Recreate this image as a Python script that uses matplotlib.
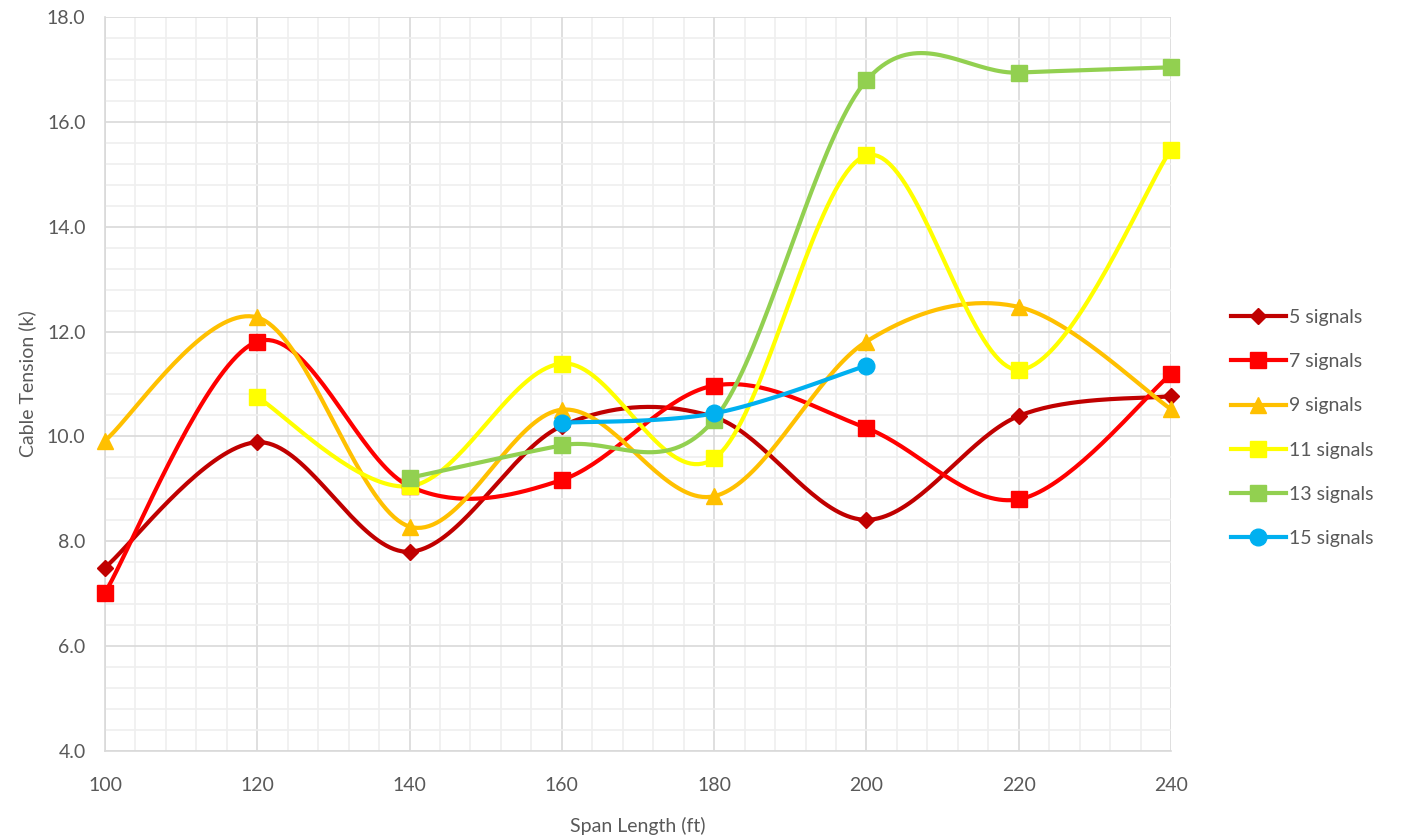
import numpy as np
import matplotlib
matplotlib.use("Agg")
import matplotlib.pyplot as plt
from matplotlib.ticker import MultipleLocator, FormatStrFormatter

plt.rcParams['font.family'] = ['Lato', 'DejaVu Sans']

span = [100, 120, 140, 160, 180, 200, 220, 240]

sig5 = [7.50, 9.89, 7.80, 10.20, 10.37, 8.41, 10.39, 10.77]
sig7 = [7.02, 11.81, 9.05, 9.17, 10.97, 10.16, 8.80, 11.19]
sig9 = [9.92, 12.27, 8.28, 10.51, 8.86, 11.81, 12.47, 10.52]
sig11 = [None, 10.75, 9.05, 11.39, 9.58, 15.36, 11.27, 15.47]
sig13 = [None, None, 9.21, 9.83, 10.32, 16.79, 16.94, 17.04]
sig15 = [None, None, None, 10.26, 10.44, 11.35, None, None]

labels = ["5 signals", "7 signals", "9 signals", "11 signals", "13 signals", "15 signals"]
colors = ["#C00000", "#FF0000", "#FFC000", "#FFFF00", "#92D050", "#00B0F0"]
markers = ["D", "s", "^", "s", "s", "o"]
msizes = [8, 11, 12, 11, 11, 12]


def smooth(xs, ys, n=40):
    # Excel-like smoothed line: cubic bezier with catmull-rom control points
    pts = np.column_stack([xs, ys]).astype(float)
    if len(pts) < 3:
        return pts[:, 0], pts[:, 1]
    out = []
    for i in range(len(pts) - 1):
        p0 = pts[i - 1] if i > 0 else pts[i]
        p1 = pts[i]
        p2 = pts[i + 1]
        p3 = pts[i + 2] if i + 2 < len(pts) else pts[i + 1]
        c1 = p1 + (p2 - p0) / 6.0
        c2 = p2 - (p3 - p1) / 6.0
        t = np.linspace(0, 1, n)[:, None]
        seg = ((1 - t) ** 3) * p1 + 3 * ((1 - t) ** 2) * t * c1 \
            + 3 * (1 - t) * t ** 2 * c2 + t ** 3 * p2
        out.append(seg if i == 0 else seg[1:])
    out = np.vstack(out)
    return out[:, 0], out[:, 1]


fig = plt.figure(figsize=(14.03, 8.35), dpi=100)
ax = fig.add_axes([105 / 1403, 84 / 835, 1066 / 1403, 734 / 835])

series = [sig5, sig7, sig9, sig11, sig13, sig15]
for vals, lab, col, mk, ms in zip(series, labels, colors, markers, msizes):
    xs = [x for x, v in zip(span, vals) if v is not None]
    ys = [v for v in vals if v is not None]
    sx, sy = smooth(xs, ys)
    ax.plot(sx, sy, color=col, lw=3, solid_capstyle='round', zorder=3,
            clip_on=False)
    ax.plot(xs, ys, linestyle='none', marker=mk, ms=ms, color=col, zorder=4,
            clip_on=False)
    ax.plot([], [], color=col, lw=3, marker=mk, ms=ms, label=lab)

ax.set_xlim(100, 240)
ax.set_ylim(4, 18)
ax.xaxis.set_major_locator(MultipleLocator(20))
ax.xaxis.set_minor_locator(MultipleLocator(4))
ax.yaxis.set_major_locator(MultipleLocator(2))
ax.yaxis.set_minor_locator(MultipleLocator(0.4))
ax.yaxis.set_major_formatter(FormatStrFormatter('%.1f'))

ax.grid(which='major', color='#D9D9D9', lw=1.2, zorder=0)
ax.grid(which='minor', color='#EFEFEF', lw=1.2, zorder=0)
ax.set_axisbelow(True)
for s in ['top', 'right']:
    ax.spines[s].set_visible(False)
for s in ['left', 'bottom']:
    ax.spines[s].set_color('#D9D9D9')
    ax.spines[s].set_linewidth(1.2)
ax.tick_params(which='both', length=0, labelsize=14, colors='#595959')
ax.tick_params(axis='x', pad=19)
ax.tick_params(axis='y', pad=14)

ax.set_xlabel("Span Length (ft)", fontsize=14, color='#595959', labelpad=16)
ax.set_ylabel("Cable Tension (k)", fontsize=14, color='#595959', labelpad=8)

leg = ax.legend(loc='center left', bbox_to_anchor=(1.04, 0.44), frameon=False,
                fontsize=14, labelspacing=1.4, handlelength=2.8,
                handletextpad=0.2, labelcolor='#595959')

fig.savefig("out.png", dpi=100)
